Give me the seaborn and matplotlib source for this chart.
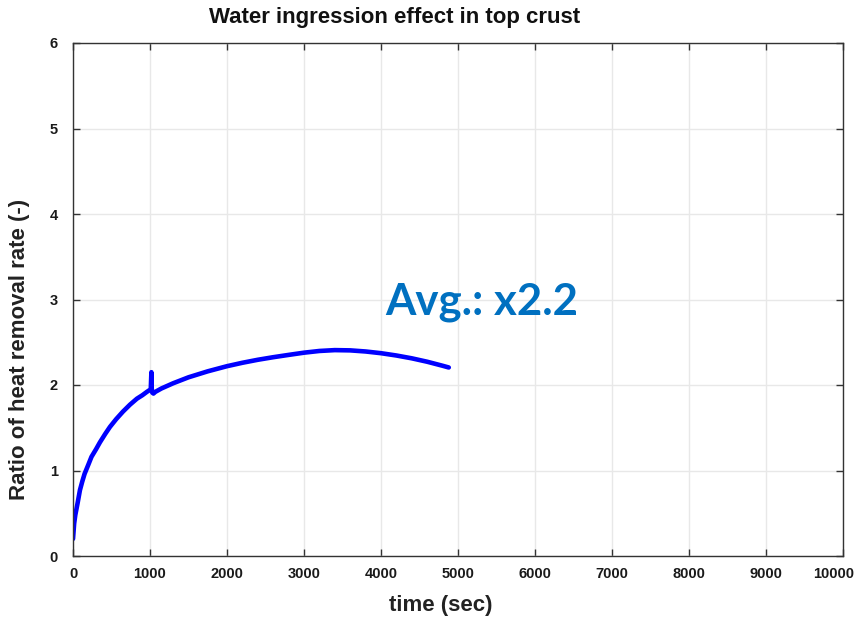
import matplotlib
matplotlib.use("Agg")
import matplotlib.pyplot as plt
import matplotlib.transforms as mtransforms
import seaborn as sns
import pandas as pd

# Heat removal ratio over time (s)
time_sec = [0, 15, 30, 45, 60, 90, 120, 150, 200, 240, 300, 350, 420, 480,
            560, 650, 740, 830, 900, 960,
            1010, 1018, 1022, 1030, 1045, 1070, 1150, 1300, 1500, 1750,
            2000, 2200, 2400, 2600, 2800, 3000, 3200, 3400, 3600, 3800,
            4000, 4200, 4400, 4600, 4800, 4880]
ratio = [0.20, 0.38, 0.48, 0.55, 0.62, 0.77, 0.87, 0.96, 1.07, 1.16, 1.25,
         1.33, 1.43, 1.51, 1.60, 1.69, 1.77, 1.84, 1.88, 1.92,
         1.95, 2.15, 1.96, 1.91, 1.90, 1.92, 1.96, 2.02, 2.09, 2.16,
         2.22, 2.26, 2.295, 2.325, 2.352, 2.378, 2.398, 2.408, 2.405, 2.392,
         2.372, 2.345, 2.312, 2.272, 2.225, 2.205]

x_ticks = [0, 1000, 2000, 3000, 4000, 5000, 6000, 7000, 8000, 9000, 10000]
y_ticks = [0, 1, 2, 3, 4, 5, 6]

title_text = "Water ingression effect in top crust"
x_label = "time (sec)"
y_label = "Ratio of heat removal rate (-)"
avg_text = "Avg.: x2.2"

sns.set_theme(style="whitegrid")
plt.rcParams["font.family"] = ["Liberation Sans", "DejaVu Sans"]

df = pd.DataFrame({"time": time_sec, "ratio": ratio})

fig = plt.figure(figsize=(8.57, 6.2), dpi=100)
ax = fig.add_axes([73 / 857, 1 - 556 / 620, (843 - 73) / 857, (556 - 43) / 620])

sns.lineplot(data=df, x="time", y="ratio", ax=ax, color="#0000ff",
             linewidth=3.3, sort=False, estimator=None)

ax.set_xlim(0, 10000)
ax.set_ylim(0, 6)
ax.set_xticks(x_ticks)
ax.set_yticks(y_ticks)
ax.set_xticklabels([str(v) for v in x_ticks], fontweight="bold", fontsize=10.5)
ax.set_yticklabels([str(v) for v in y_ticks], fontweight="bold", fontsize=10.5)
ax.set_xlabel("")
ax.set_ylabel("")

ax.grid(True, color="#e8e8e8", linewidth=1.0)
for s in ax.spines.values():
    s.set_visible(True)
    s.set_color("#333333")
    s.set_linewidth(1.0)
ax.tick_params(axis="both", which="both", direction="in", length=5,
               width=1.0, color="#333333", labelcolor="#1a1a1a",
               top=True, right=True, bottom=True, left=True)
ax.tick_params(axis="x", pad=8)
ax.tick_params(axis="y", pad=11)

# keep the last x tick label inside the figure
last = ax.get_xticklabels()[-1]
last.set_transform(last.get_transform() +
                   mtransforms.ScaledTranslation(-9 / 100, 0, fig.dpi_scale_trans))

ax.text(4050, 2.82, avg_text, color="#0070c0", fontsize=31.5,
        fontweight="bold", family=["Lato", "DejaVu Sans"], va="baseline",
        ha="left")

fig.text(395 / 857, 1 - 17 / 620, title_text, ha="center", va="center",
         fontsize=16, fontweight="bold", color="#111111")
fig.text(441 / 857, 1 - 605 / 620, x_label, ha="center", va="center",
         fontsize=16, fontweight="bold", color="#222222")
fig.text(20 / 857, 1 - 349 / 620, y_label, ha="center", va="center",
         rotation=90, fontsize=16, fontweight="bold", color="#222222")

fig.savefig("out.png", dpi=100)
